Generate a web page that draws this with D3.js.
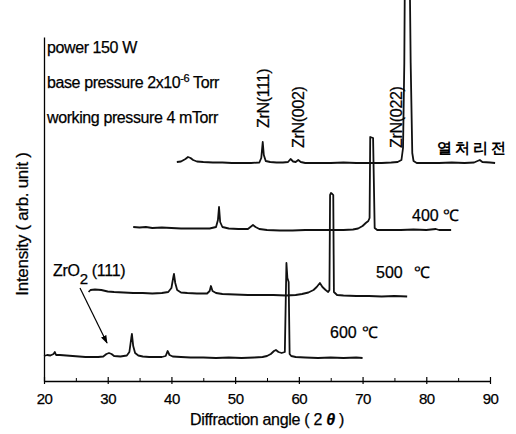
<!DOCTYPE html>
<html><head><meta charset="utf-8">
<script src="https://cdn.jsdelivr.net/npm/d3@7"></script>
<style>
body{margin:0;background:#fff}
text{font-family:"Liberation Sans",Arial,sans-serif;fill:#000;stroke:#000;stroke-width:0.25px}
</style>
</head><body>
<svg id="c" width="516" height="434"></svg>
<script>
// ---- data ----
const xTicks = [20,30,40,50,60,70,80,90];
const xMinorTicks = [25,35,45,55,65,75,85];
const seriesNames = ["600 ℃","500 ℃","400 ℃","열처리전"];
const seriesShift = [0,7,14,21];          // waterfall x shift (deg)
const seriesOffset = [23,86,151,218];      // waterfall y offset (a.u.)

const trace600 = [
[20.0,2],[20.5,3],[21.0,2.5],[21.5,4],[21.7,6],[21.9,3],[22.5,3],[23.5,2.5],[24.5,2],[25.5,1.5],[26.5,1],[27.5,1],[28.5,1],[29.3,1.5],[29.8,4],[30.2,5],[30.6,4],[31.0,2],[32.0,1.5],[33.0,2.5],[33.4,6],[33.7,20],[33.8,24],[34.0,12],[34.3,5],[34.8,2.5],[35.5,1.5],[36.5,1],[37.5,1],[38.5,1],[39.1,2],[39.4,7],[39.7,3],[40.2,1.5],[41.5,1],[43,0.5],[45,0.5],[47,0],[49,0.5],[51,0],[53,0.5],[54.3,1],[55.0,2],[55.6,4],[56.1,7],[56.4,8],[56.8,6],[57.3,5],[57.8,6],[57.95,60],[58.05,95],[58.2,80],[58.4,76],[58.55,4],[58.8,2],[59.5,1],[61,0.5],[63,0],[65,0.5],[67,0],[69,0.5],[70,0]
];
const trace500 = [
[20.0,3],[20.3,5],[21.0,5.5],[22.0,5],[23.0,3.5],[24.0,3],[25.5,2.5],[27.0,2],[28.5,2],[30.0,1.5],[31.5,2],[32.5,3],[33.0,7],[33.3,18],[33.4,21],[33.6,12],[33.9,5],[34.5,2.5],[35.5,2],[37,1.5],[38.6,1.5],[39.0,4],[39.2,9],[39.45,4],[40,2],[41,1],[43,0.5],[45,0],[47,0],[49,0],[51,-0.5],[52.5,0],[53.5,1],[54.5,2.5],[55.3,5],[55.8,8],[56.3,12],[56.7,8],[57.2,5],[57.6,3],[57.8,5],[57.9,100],[58.05,102],[58.25,101],[58.4,100],[58.5,3],[59,0],[60,-0.5],[62,-1],[64,-1],[66,-1.5],[68,-1],[70,-1.5]
];
const trace400 = [
[20.0,3],[21,2.5],[22,3],[23,2],[24.5,2.5],[26,2],[27.5,1.5],[29,1.5],[30.5,1.5],[32,1.5],[33.0,3],[33.3,10],[33.47,23],[33.65,8],[34.0,3],[35,1.5],[36.5,1],[38.0,1],[38.4,3],[38.8,5],[39.2,3],[39.8,1],[41,0],[43,-0.5],[45,-0.5],[47,0],[49,0],[51,0],[53,0],[54.5,0.5],[55.3,1.5],[56.0,4],[56.5,7],[56.9,9],[57.1,12],[57.2,93],[57.65,92],[57.9,2],[58.3,0],[60,0],[62,0],[64,0.5],[66,0],[67.5,1],[68,0],[69.9,0]
];
const traceAsDep = [
[19.85,1],[20.5,1.5],[21.2,4],[21.6,6],[22.0,5],[22.4,3],[23,1.5],[24,1],[25.5,0.5],[27,0.5],[28.5,0],[30,0],[31.5,0],[32.8,0.5],[33.1,5],[33.33,21],[33.5,8],[33.8,2],[34.5,1],[35.5,0.5],[36.5,0.5],[37.3,1],[37.7,4],[38.1,1.5],[38.5,1],[38.9,3],[39.3,1],[40,0],[42,0],[44,0],[46,0.5],[48,0],[50,0],[52,0],[53.5,0.5],[54.5,1],[55.1,3],[55.35,15],[55.55,100],[55.7,250],[56.3,250],[56.55,100],[56.8,10],[57.0,2],[57.5,0],[59,0],[61,0],[63,0.5],[65,0],[66.5,0.5],[67.4,3],[67.8,1],[69,0.5],[69.8,0]
];
const traces = [trace600, trace500, trace400, traceAsDep];

const peakLabels = ["ZrN(111)","ZrN(002)","ZrN(022)"];
const peakLabelAt = [[55.39,253],[60.81,233],[76.19,233]];
const infoLines = ["power 150 W","base pressure 2x10","working pressure 4 mTorr"];

// ---- layout ----
const svg = d3.select("#c");
const x = d3.scaleLinear().domain([20,90]).range([44,490]);
const y = d3.scaleLinear().domain([0,344]).range([381,37]);

// axes
const gx = svg.append("g").attr("transform","translate(0,381)")
  .call(d3.axisBottom(x).tickValues(xTicks).tickSizeInner(3).tickSizeOuter(0).tickPadding(6));
gx.select(".domain").attr("stroke","#000").attr("stroke-width",1.3);
gx.selectAll(".tick line").attr("y1",-4).attr("y2",3).attr("stroke","#000").attr("stroke-width",1.2);
gx.selectAll(".tick text").attr("font-size",15).attr("letter-spacing","-0.5")
  .attr("font-family","'Liberation Sans',Arial,sans-serif").attr("fill","#000").attr("dy","0.95em");
const gm = svg.append("g").attr("transform","translate(0,381)")
  .call(d3.axisBottom(x).tickValues(xMinorTicks).tickSize(0).tickFormat(""));
gm.select(".domain").remove();
gm.selectAll(".tick line").attr("y1",-3).attr("y2",0).attr("stroke","#000");

const gy = svg.append("g").attr("transform","translate(44,0)")
  .call(d3.axisLeft(y).tickValues([]).tickSizeOuter(0));
gy.select(".domain").attr("stroke","#000").attr("stroke-width",1.3);

// traces
traces.forEach((tr,i)=>{
  const line = d3.line()
    .x(d=>x(d[0]+seriesShift[i]))
    .y(d=>y(d[1]+seriesOffset[i]));
  svg.append("path").datum(tr).attr("d",line)
    .attr("fill","none").attr("stroke","#111").attr("stroke-width",1.8)
    .attr("stroke-linejoin","round");
});

// info text
const info = svg.append("g").attr("font-size",16).attr("letter-spacing","-0.4");
[53,88,123].forEach((by,i)=>{
  const t = info.append("text").attr("x",47).attr("y",by).text(infoLines[i]);
  if(i===1){
    t.append("tspan").attr("font-size",11).attr("dy",-6).text("-6");
    t.append("tspan").attr("dy",6).text(" Torr");
  }
});

// peak labels (rotated)
peakLabels.forEach((l,i)=>{
  svg.append("text")
    .attr("transform",`translate(${x(peakLabelAt[i][0])},${y(peakLabelAt[i][1])}) rotate(-90)`)
    .attr("font-size",16).attr("letter-spacing","-0.3").text(l);
});

// series labels
const tempPos = [[64.89,69.9,43],[72.11,78.1,103],[77.76,82.6,160]];
tempPos.forEach((p,i)=>{
  const parts = seriesNames[i].split(" ");
  svg.append("text").attr("x",x(p[0])).attr("y",y(p[2])).attr("font-size",16).text(parts[0]);
  svg.append("text").attr("x",x(p[1])).attr("y",y(p[2])).attr("font-size",16)
    .attr("font-family","'DejaVu Sans',sans-serif").attr("letter-spacing","-1").text(parts[1]);
});
svg.append("text").attr("x",x(81.68)).attr("y",y(228))
  .attr("font-family","'Noto Sans CJK KR',sans-serif").attr("font-weight","bold")
  .attr("font-size",15).attr("letter-spacing","3").style("stroke-width","0").text(seriesNames[3]);

// ZrO2 annotation
const zt = svg.append("text").attr("x",x(21.41)).attr("y",y(105)).attr("font-size",16).attr("letter-spacing","-0.3");
zt.append("tspan").text("ZrO");
zt.append("tspan").attr("dy",8).attr("font-size",15).text("2");
zt.append("tspan").attr("dy",-8).text(" (111)");

svg.append("defs").append("marker").attr("id","ah").attr("viewBox","0 0 10 10")
  .attr("refX",9).attr("refY",5).attr("markerWidth",7).attr("markerHeight",7)
  .attr("orient","auto").append("path").attr("d","M0,1.5 L10,5 L0,8.5 Z").attr("fill","#000");
svg.append("line").attr("x1",x(25.65)).attr("y1",y(93)).attr("x2",x(29.89)).attr("y2",y(38))
  .attr("stroke","#000").attr("stroke-width",1.2).attr("marker-end","url(#ah)");

// axis titles
svg.append("text").attr("transform","translate(28,224) rotate(-90)")
  .attr("text-anchor","middle").attr("font-size",17).attr("letter-spacing","-0.3")
  .text("Intensity ( arb. unit )");
const xt = svg.append("text").attr("x",267).attr("y",425).attr("text-anchor","middle")
  .attr("font-size",16).attr("letter-spacing","-0.3");
xt.append("tspan").text("Diffraction angle ( 2 ");
xt.append("tspan").attr("font-weight","bold").attr("font-style","italic").text("θ");
xt.append("tspan").text(" )");
</script>
</body></html>
